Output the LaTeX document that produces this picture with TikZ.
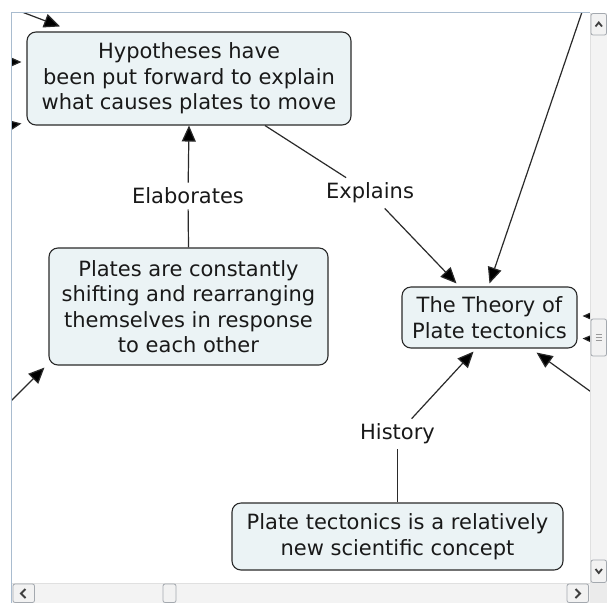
\documentclass[tikz,border=0pt]{standalone}
\usepackage{fontspec}
\setmainfont{DejaVu Sans}
\usetikzlibrary{arrows.meta}
\definecolor{boxfill}{HTML}{EBF3F5}
\definecolor{linecol}{HTML}{2A2A2A}
\definecolor{framecol}{HTML}{A9BCCF}
\definecolor{trackcol}{HTML}{F3F3F3}
\definecolor{btnborder}{HTML}{A4A9AF}
\definecolor{btnfill}{HTML}{F2F2F2}
\tikzset{
  concept/.style={draw=linecol, line width=1.1pt, rounded corners=9pt, fill=boxfill,
    align=center, inner sep=0pt, font=\fontsize{21}{25.5}\selectfont, text=black!90},
  linkword/.style={inner sep=5pt, font=\fontsize{21}{25.5}\selectfont, text=black!90},
  conn/.style={draw=linecol, line width=1.2pt},
  arr/.style={conn, -{Triangle[length=16pt,width=14pt,fill=black]}},
  btn/.style={draw=btnborder, fill=btnfill, rounded corners=2pt, line width=0.8pt},
  chev/.style={draw=black!75, line width=1.8pt}
}
\begin{document}
\begin{tikzpicture}[x=1pt,y=-1pt]
\useasboundingbox (0,0) rectangle (607,603);
\fill[white] (0,0) rectangle (607,603);
\begin{scope}
\clip (12,13) rectangle (590,583);
\node[concept, minimum width=324pt, minimum height=93pt] (hyp) at (189,78.5)
  {Hypotheses have\\been put forward to explain\\what causes plates to move};
\node[concept, minimum width=279pt, minimum height=117pt] (plates) at (188.5,306.5)
  {Plates are constantly\\shifting and rearranging\\themselves in response\\to each other};
\node[concept, minimum width=175pt, minimum height=61pt] (theory) at (489.5,317.5)
  {The Theory of\\Plate tectonics};
\node[concept, minimum width=331pt, minimum height=67pt] (pt) at (397.5,536.5)
  {Plate tectonics is a relatively\\new scientific concept};
\node[linkword] (elab) at (188,196) {Elaborates};
\node[linkword] (expl) at (370,193) {Explains};
\node[linkword] (hist) at (397.5,434) {History};
% free ends
\coordinate (tl) at (22,12);
\coordinate (tr) at (582,12);
\coordinate (rr) at (594,394);
\coordinate (bl) at (8,404);
\coordinate (l1) at (0,62);
\coordinate (l2) at (0,127);
\coordinate (r1) at (600,316);
\coordinate (r2) at (600,339);
% connectors
\draw[conn] (plates.north) -- (elab);
\draw[arr] (elab) -- (hyp.south);
\draw[conn] ([xshift=76pt]hyp.south) -- (expl);
\draw[arr] (expl) -- ([xshift=-33pt,yshift=3pt]theory.north);
\draw[conn] (pt.north) -- (hist);
\draw[arr] (hist) -- ([xshift=-16pt,yshift=-3pt]theory.south);
\draw[arr] (tr) -- ([xshift=0pt,yshift=3pt]theory.north);
\draw[arr] (rr) -- ([xshift=47pt,yshift=-4pt]theory.south);
\draw[arr] (bl) -- ([xshift=-4pt,yshift=-2pt]plates.south west);
\draw[arr] (tl) -- ([xshift=-129pt,yshift=5pt]hyp.north);
\draw[arr] (l1) -- ([xshift=-5pt,yshift=16.5pt]hyp.west);
\draw[arr] (l2) -- ([xshift=-5pt,yshift=-45pt]hyp.west);
\draw[arr] (r1) -- ([xshift=5pt,yshift=1.5pt]theory.east);
\draw[arr] (r2) -- ([xshift=5pt,yshift=-21pt]theory.east);
\end{scope}
% window frame
\draw[framecol, line width=1pt] (11.5,603) -- (11.5,12.5) -- (590,12.5);
% vertical scrollbar
\fill[trackcol] (590,13) rectangle (607,583);
\draw[black!12, line width=0.8pt] (590.4,13) -- (590.4,583);
\draw[btn] (591,13.5) rectangle (606.5,35);
\draw[chev] (595.5,26.5) -- (598.75,22.5) -- (602,26.5);
\draw[btn] (591,319) rectangle (606.5,356);
\foreach \yy in {334.5,337.5,340.5} \draw[black!40, line width=0.7pt] (595.5,\yy) -- (602,\yy);
\draw[btn] (591,560) rectangle (606.5,582.5);
\draw[chev] (595.5,569) -- (598.75,573) -- (602,569);
% horizontal scrollbar
\fill[trackcol] (12,583) rectangle (590,603);
\draw[black!12, line width=0.8pt] (12,583.4) -- (590,583.4);
\draw[btn] (13,584) rectangle (34.5,602.5);
\draw[chev] (25.5,589) -- (21,593.5) -- (25.5,598);
\draw[btn] (163,584) rectangle (176,602.5);
\draw[btn] (567,584) rectangle (588.5,602.5);
\draw[chev] (575.5,589) -- (580,593.5) -- (575.5,598);
\fill[black!8] (590,583) rectangle (607,603);
\end{tikzpicture}
\end{document}
